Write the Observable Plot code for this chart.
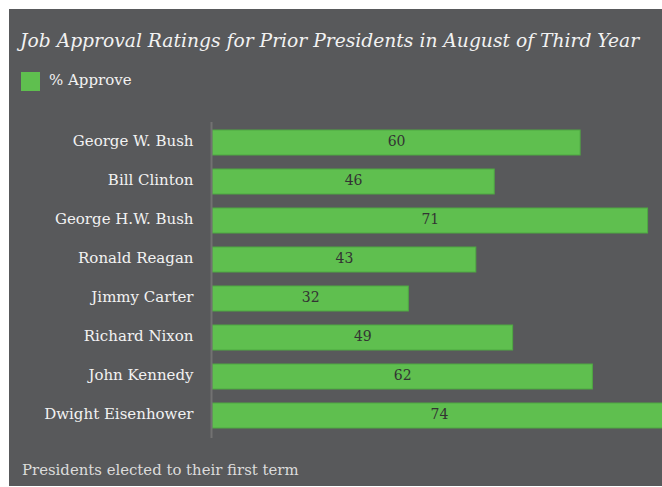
<!DOCTYPE html>
<html>
<head>
<meta charset="utf-8">
<script src="https://cdn.jsdelivr.net/npm/d3@7"></script>
<script src="https://cdn.jsdelivr.net/npm/@observablehq/plot@0.6"></script>
<style>
  html, body { margin: 0; padding: 0; background: #ffffff; }
  #wrap { position: absolute; left: 9px; top: 9px; width: 653px; height: 477px; background: #58595b; overflow: hidden; font-family: "DejaVu Serif", serif; }
  #title { position: absolute; left: 11px; top: 21px; font-style: italic; font-size: 18.7px; color: #f2f2f2; white-space: nowrap; }
  #legend { position: absolute; left: 12px; top: 63px; font-size: 15px; color: #f2f2f2; display: flex; align-items: center; }
  #legend .sw { width: 19px; height: 19px; background: #5fbf4f; margin-right: 9px; }
  #legend span { position: relative; top: -2px; }
  #caption { position: absolute; left: 13px; top: 452px; font-size: 14.9px; color: #dcdcdc; white-space: nowrap; }
  #chart { position: absolute; left: 0; top: 101px; }
</style>
</head>
<body>
<div id="wrap">
  <div id="title">Job Approval Ratings for Prior Presidents in August of Third Year</div>
  <div id="legend"><div class="sw"></div><span>% Approve</span></div>
  <div id="chart"></div>
  <div id="caption">Presidents elected to their first term</div>
</div>
<script>
const presidents = ["George W. Bush", "Bill Clinton", "George H.W. Bush", "Ronald Reagan", "Jimmy Carter", "Richard Nixon", "John Kennedy", "Dwight Eisenhower"];
const approve = [60, 46, 71, 43, 32, 49, 62, 74];

const data = presidents.map((name, i) => ({name, value: approve[i]}));

const chart = Plot.plot({
  width: 653,
  height: 340,
  marginTop: 12,
  marginBottom: 12,
  marginLeft: 203,
  marginRight: 0,
  style: {background: "transparent", fontFamily: "DejaVu Serif, serif", overflow: "hidden"},
  x: {domain: [0, 74], range: [203, 657], axis: null},
  y: {domain: presidents, range: [18, 320], paddingInner: 0.36, paddingOuter: 0, label: null},
  marks: [
    Plot.barX(data, {y: "name", x: "value", fill: "#5fbf4f", stroke: "#4fa843", strokeWidth: 1}),
    Plot.ruleX([0], {stroke: "#727272", strokeWidth: 2, dx: -1}),
    Plot.text(data, {y: "name", x: d => d.value / 2, text: d => String(d.value), fill: "#333333", fontSize: 14, dy: -1}),
    Plot.axisY({tickSize: 0, tickPadding: 19, fontSize: 15, fill: "#f2f2f2", label: null, dy: -2})
  ]
});
document.getElementById("chart").appendChild(chart);
</script>
</body>
</html>
